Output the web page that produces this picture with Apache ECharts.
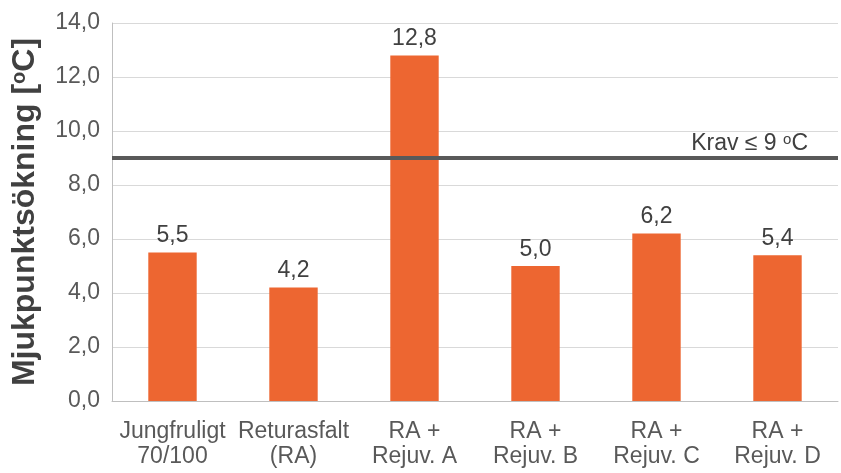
<!DOCTYPE html>
<html>
<head>
<meta charset="utf-8">
<script src="https://cdn.jsdelivr.net/npm/echarts@6/dist/echarts.min.js"></script>
<style>html,body{margin:0;padding:0;background:#fff;}#c{width:841px;height:473px;}</style>
</head>
<body>
<div id="c"></div>
<script>
const categories = ['Jungfruligt\n70/100', 'Returasfalt\n(RA)', 'RA +\nRejuv. A', 'RA +\nRejuv. B', 'RA +\nRejuv. C', 'RA +\nRejuv. D'];
const values = [5.5, 4.2, 12.8, 5.0, 6.2, 5.4];
const requirement = 9;
const yTicks = { min: 0, max: 14, interval: 2 };

const chart = echarts.init(document.getElementById('c'));
const fmt = v => v.toFixed(1).replace('.', ',');
chart.setOption({
  animation: false,
  grid: { left: 112, right: 3, top: 23, bottom: 72, containLabel: false },
  xAxis: {
    type: 'category',
    data: categories,
    axisLine: { lineStyle: { color: '#bfbfbf', width: 1 } },
    axisTick: { show: false },
    axisLabel: { color: '#595959', fontSize: 23, fontFamily: 'Liberation Sans', lineHeight: 25, margin: 18, interval: 0 }
  },
  yAxis: {
    type: 'value',
    min: yTicks.min, max: yTicks.max, interval: yTicks.interval,
    name: '{t|Mjukpunktsökning [}{s|o}{t|C]}',
    nameLocation: 'middle',
    nameGap: 70,
    nameRotate: 90,
    nameTextStyle: {
      rich: {
        t: { fontSize: 32, fontWeight: 'bold', color: '#404040', fontFamily: 'Liberation Sans' },
        s: { fontSize: 20, fontWeight: 'bold', color: '#404040', fontFamily: 'Liberation Sans', padding: [0, 0, 13, 0] }
      }
    },
    axisLine: { show: true, lineStyle: { color: '#bfbfbf', width: 1 } },
    axisTick: { show: false },
    splitLine: { lineStyle: { color: '#d9d9d9', width: 1 } },
    axisLabel: { color: '#595959', fontSize: 23, fontFamily: 'Liberation Sans', margin: 12, formatter: v => fmt(v) }
  },
  series: [{
    type: 'bar',
    data: values,
    barWidth: '40%',
    itemStyle: { color: '#ED6631' },
    label: { show: true, position: 'top', distance: 5, color: '#404040', fontSize: 23, fontFamily: 'Liberation Sans', formatter: p => fmt(p.value) },
    markLine: {
      silent: true,
      symbol: 'none',
      data: [{ yAxis: requirement }],
      lineStyle: { color: '#595959', width: 4, type: 'solid' },
      label: {
        show: true,
        position: 'insideEndTop',
        distance: [30, 3],
        formatter: '{t|Krav ≤ 9 }{s|o}{t|C}',
        rich: {
          t: { fontSize: 23, color: '#404040', fontFamily: 'Liberation Sans' },
          s: { fontSize: 15, color: '#404040', fontFamily: 'Liberation Sans', padding: [0, 0, 8, 0] }
        }
      }
    }
  }]
});
</script>
</body>
</html>
